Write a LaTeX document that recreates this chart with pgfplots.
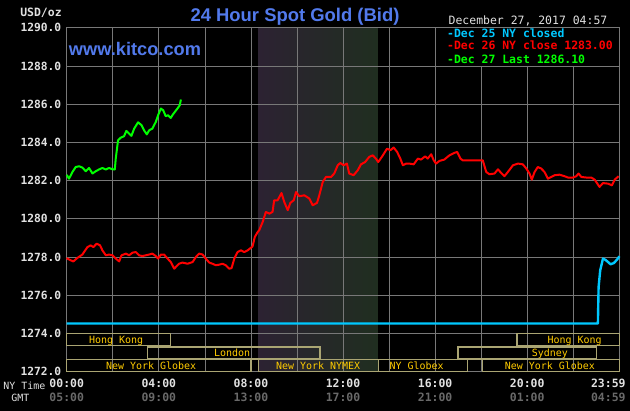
\documentclass[border=0pt]{standalone}
\usepackage{fontspec}
\usepackage{pgfplots}
\pgfplotsset{compat=1.18}
\setmainfont{DejaVu Sans Mono}
\newfontfamily\mono{DejaVu Sans Mono}
\newfontfamily\titlefont{Liberation Sans}
\definecolor{gridc}{RGB}{120,120,120}
\definecolor{tickc}{RGB}{225,225,225}
\definecolor{gmtc}{RGB}{105,105,105}
\definecolor{kblue}{RGB}{82,122,236}
\definecolor{kcyan}{RGB}{0,200,255}
\definecolor{kred}{RGB}{255,0,0}
\definecolor{kgreen}{RGB}{0,255,0}
\definecolor{barc}{RGB}{170,165,115}
\definecolor{bartext}{RGB}{255,204,0}
\definecolor{shL}{RGB}{44,34,50}
\definecolor{shM}{RGB}{33,33,33}
\definecolor{shR}{RGB}{32,46,32}

\pgfplotstableread{
h v
0.00 1277.95
0.03 1277.92
0.17 1277.83
0.29 1277.77
0.46 1277.95
0.68 1278.13
0.90 1278.52
1.04 1278.61
1.16 1278.52
1.30 1278.70
1.45 1278.61
1.55 1278.35
1.70 1278.09
1.84 1278.13
1.99 1278.09
2.13 1277.92
2.28 1277.77
2.38 1278.09
2.57 1278.18
2.71 1278.09
2.86 1278.23
3.00 1278.26
3.14 1278.09
3.29 1278.05
3.43 1278.09
3.58 1278.13
3.72 1278.18
3.87 1278.05
3.97 1277.92
4.09 1278.13
4.23 1278.13
4.38 1277.92
4.52 1277.74
4.67 1277.39
4.74 1277.48
4.88 1277.65
5.03 1277.71
5.25 1277.65
5.47 1277.74
5.61 1278.00
5.75 1278.18
5.90 1278.13
6.04 1277.92
6.19 1277.71
6.33 1277.65
6.48 1277.57
6.62 1277.60
6.77 1277.65
6.91 1277.57
7.06 1277.39
7.16 1277.42
7.28 1277.92
7.42 1278.26
7.57 1278.35
7.71 1278.26
7.86 1278.35
8.07 1278.55
8.17 1279.05
8.29 1279.30
8.36 1279.40
8.51 1279.83
8.65 1280.36
8.80 1280.27
8.94 1280.36
9.01 1280.97
9.16 1280.97
9.33 1281.35
9.45 1280.88
9.60 1280.45
9.71 1280.83
9.86 1280.97
9.96 1281.40
10.10 1281.18
10.32 1281.23
10.54 1281.06
10.68 1280.71
10.87 1280.83
10.97 1281.23
11.12 1281.93
11.26 1282.19
11.48 1282.19
11.62 1282.37
11.77 1282.80
11.88 1282.92
12.03 1282.80
12.17 1282.89
12.27 1282.37
12.46 1282.28
12.64 1282.54
12.78 1282.85
12.96 1282.97
13.14 1283.24
13.29 1283.32
13.43 1283.15
13.53 1282.97
13.73 1283.32
13.91 1283.67
14.06 1283.59
14.20 1283.73
14.35 1283.50
14.49 1283.15
14.60 1282.80
14.74 1282.89
14.88 1282.89
15.07 1282.85
15.25 1283.15
15.39 1283.10
15.57 1283.27
15.68 1283.15
15.83 1283.38
15.94 1283.06
16.04 1282.89
16.19 1283.03
16.40 1283.10
16.62 1283.32
16.84 1283.45
16.96 1283.50
17.10 1283.15
17.20 1283.06
18.07 1283.06
18.22 1282.45
18.36 1282.33
18.58 1282.37
18.73 1282.59
18.87 1282.40
19.01 1282.23
19.16 1282.45
19.38 1282.80
19.60 1282.89
19.81 1282.85
19.96 1282.63
20.10 1282.37
20.20 1282.05
20.32 1282.45
20.46 1282.71
20.61 1282.63
20.75 1282.45
20.90 1282.10
21.04 1282.19
21.19 1282.28
21.40 1282.31
21.62 1282.23
21.77 1282.16
21.99 1282.16
22.13 1282.23
22.23 1282.37
22.35 1282.19
22.57 1282.16
22.78 1282.16
22.93 1282.05
23.14 1281.67
23.29 1281.87
23.51 1281.84
23.68 1281.75
23.80 1282.05
23.97 1282.23
}\redtable

\pgfplotstableread{
h v
0.00 1282.30
0.10 1282.10
0.25 1282.45
0.39 1282.71
0.54 1282.75
0.68 1282.68
0.83 1282.49
0.97 1282.66
1.12 1282.37
1.26 1282.49
1.40 1282.58
1.55 1282.66
1.70 1282.58
1.84 1282.66
1.99 1282.59
2.09 1282.58
2.13 1283.15
2.23 1284.11
2.35 1284.25
2.49 1284.32
2.59 1284.60
2.71 1284.46
2.81 1284.34
2.93 1284.72
3.10 1285.05
3.25 1284.90
3.36 1284.63
3.48 1284.42
3.58 1284.63
3.72 1284.72
3.87 1285.07
3.97 1285.42
4.09 1285.77
4.19 1285.68
4.30 1285.37
4.40 1285.42
4.52 1285.28
4.59 1285.42
4.70 1285.60
4.81 1285.77
4.91 1285.94
4.96 1286.24
}\greentable

\pgfplotstableread{
h v
0.00 1274.52
23.07 1274.52
23.10 1276.43
23.17 1277.30
23.29 1277.92
23.40 1277.85
23.51 1277.74
23.62 1277.62
23.77 1277.69
23.94 1277.92
24.00 1278.04
}\cyantable

\begin{document}
\begin{tikzpicture}[x=1bp,y=1bp]
\begin{axis}[
  at={(66.7bp,38.3bp)}, anchor=south west,
  scale only axis, width=552.6bp, height=344bp,
  xmin=0, xmax=24, ymin=1272, ymax=1290,
  set layers, clip=false,
  axis line style={draw=gridc, line width=0.8bp},
  grid=both,
  major grid style={draw=gridc, line width=0.7bp},
  minor grid style={draw=gridc, line width=0.7bp},
  xtick={0,4,8,12,16,20}, minor xtick={2,6,10,14,18,22},
  xticklabels={00:00,04:00,08:00,12:00,16:00,20:00},
  extra x ticks={24}, extra x tick labels={23:59},
  extra x tick style={grid=none, xticklabel style={xshift=-11bp}},
  ytick={1272,1274,...,1290},
  major tick length=0pt, minor tick length=0pt,
  tick label style={text=tickc},
  xticklabel style={font=\mono\bfseries\fontsize{11.5}{12}\selectfont, anchor=base, yshift=-15.6bp},
  yticklabel style={font=\mono\bfseries\fontsize{11.3}{12}\selectfont, xshift=-2bp},
  /pgf/number format/.cd, fixed, fixed zerofill, precision=1, 1000 sep={}, assume math mode=true,
]
% black page background (beneath everything)
\addplot[on layer=axis background, fill=black, draw=none]
  coordinates {(-3.6,1269.5) (25.2,1269.5) (25.2,1292.2) (-3.6,1292.2)} -- cycle;
% COMEX session shading
\addplot[on layer=axis background, draw=none, left color=shL, middle color=shM, right color=shR]
  coordinates {(8.333,1272) (13.5,1272) (13.5,1290) (8.333,1290)} -- cycle;

% market session bars
\addplot[draw=barc, line width=1.4bp] coordinates {(0,1273.36) (4.5,1273.36) (4.5,1274) (0,1274)} -- cycle;
\addplot[draw=barc, line width=1.4bp] coordinates {(19.55,1273.36) (24,1273.36) (24,1274) (19.55,1274)} -- cycle;
\addplot[draw=barc, line width=1.4bp] coordinates {(3.5,1272.66) (11,1272.66) (11,1273.30) (3.5,1273.30)} -- cycle;
\addplot[draw=barc, line width=1.4bp] coordinates {(17,1272.66) (23,1272.66) (23,1273.30) (17,1273.30)} -- cycle;
\addplot[draw=barc, line width=1.4bp] coordinates {(0,1272) (8,1272) (8,1272.64) (0,1272.64)} -- cycle;
\addplot[draw=barc, line width=1.4bp] coordinates {(8.333,1272) (13.55,1272) (13.55,1272.64) (8.333,1272.64)} -- cycle;
\addplot[draw=barc, line width=1.4bp] coordinates {(13.55,1272) (17.4,1272) (17.4,1272.64) (13.55,1272.64)} -- cycle;
\addplot[draw=barc, line width=1.4bp] coordinates {(18.05,1272) (24,1272) (24,1272.64) (18.05,1272.64)} -- cycle;

\begin{scope}[every node/.style={font=\mono\fontsize{10}{11}\selectfont, text=bartext, anchor=base}]
\node at (axis cs:2.15,1273.45) {Hong Kong};
\node at (axis cs:22.06,1273.45) {Hong Kong};
\node at (axis cs:7.18,1272.82) {London};
\node at (axis cs:20.98,1272.82) {Sydney};
\node at (axis cs:3.67,1272.14) {New York Globex};
\node at (axis cs:10.92,1272.14) {New York NYMEX};
\node at (axis cs:15.2,1272.14) {NY Globex};
\node at (axis cs:20.98,1272.14) {New York Globex};
\end{scope}

% price lines
\addplot[kcyan, line width=2.4bp, line join=round] table[x=h,y=v] {\cyantable};
\addplot[kred, line width=2bp, line join=round] table[x=h,y=v] {\redtable};
\addplot[kgreen, line width=2bp, line join=round] table[x=h,y=v] {\greentable};

% legend box
\addplot[fill=black, draw=gridc, line width=0.8bp] coordinates {(16,1288) (24,1288) (24,1290) (16,1290)} -- cycle;
\begin{scope}[every node/.style={font=\mono\bfseries\fontsize{11.5}{12}\selectfont, anchor=base west}]
\node[text=kcyan] at (axis cs:16.37,1289.48) {-Dec 25 NY closed};
\node[text=kred] at (axis cs:16.37,1288.87) {-Dec 26 NY close 1283.00};
\node[text=kgreen] at (axis cs:16.37,1288.14) {-Dec 27 Last 1286.10};
\end{scope}

% GMT row
\begin{scope}[every node/.style={font=\mono\bfseries\fontsize{11.5}{12}\selectfont, text=gmtc, anchor=base, yshift=-30bp}]
\node at (axis cs:0,1272) {05:00};
\node at (axis cs:4,1272) {09:00};
\node at (axis cs:8,1272) {13:00};
\node at (axis cs:12,1272) {17:00};
\node at (axis cs:16,1272) {21:00};
\node at (axis cs:20,1272) {01:00};
\node[xshift=-11bp] at (axis cs:24,1272) {04:59};
\end{scope}
\end{axis}

% texts around
\node[anchor=base, font=\titlefont\bfseries\fontsize{18.5}{20}\selectfont, text=kblue] at (295,388.3) {24 Hour Spot Gold (Bid)};
\node[anchor=base, font=\titlefont\bfseries\fontsize{18.3}{20}\selectfont, text=kblue] at (135,355) {www.kitco.com};
\node[anchor=base, font=\mono\bfseries\fontsize{11.5}{12}\selectfont, text=tickc] at (41,393.3) {USD/oz};
\node[anchor=base, font=\mono\fontsize{11.5}{12}\selectfont, text=tickc] at (528,386) {December 27, 2017 04:57};
\node[anchor=base west, font=\mono\fontsize{10}{11}\selectfont, text=tickc, inner sep=0pt] at (3.3,20.7) {NY Time};
\node[anchor=base, font=\mono\fontsize{10}{11}\selectfont, text=tickc] at (20.3,8.3) {GMT};
\pgfresetboundingbox
\path[use as bounding box] (0,0) rectangle (630,410);
\end{tikzpicture}
\end{document}
